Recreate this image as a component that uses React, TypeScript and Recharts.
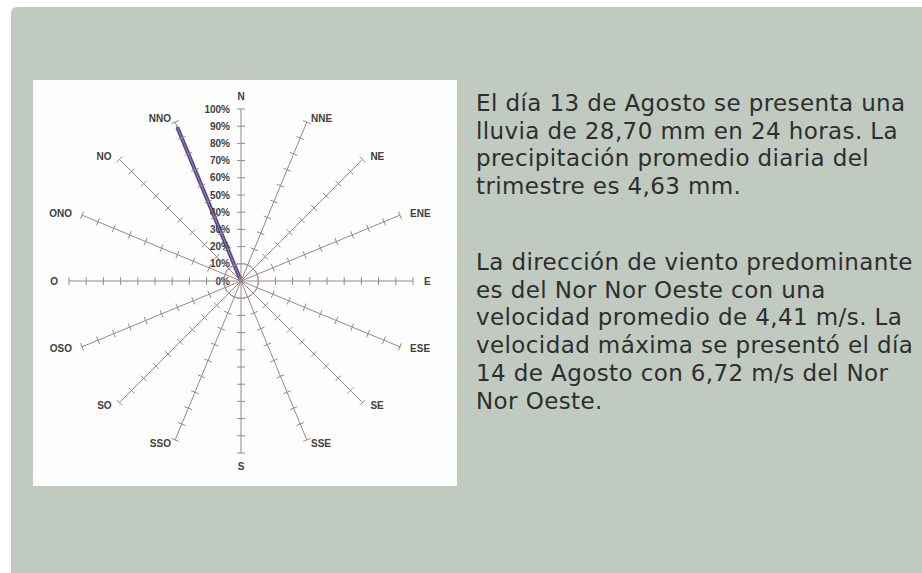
import { PolarAngleAxis, PolarGrid, PolarRadiusAxis, Radar, RadarChart } from 'recharts'

const directions = ['N', 'NNE', 'NE', 'ENE', 'E', 'ESE', 'SE', 'SSE', 'S', 'SSO', 'SO', 'OSO', 'O', 'ONO', 'NO', 'NNO']
const frequency = [0, 0, 0, 0, 0, 0, 0, 0, 0, 0, 0, 0, 0, 0, 0, 96]

const paragraphOne = [
    'El día 13 de Agosto se presenta una',
    'lluvia de 28,70 mm en 24 horas. La',
    'precipitación promedio diaria del',
    'trimestre es 4,63 mm.',
]
const paragraphTwo = [
    'La dirección de viento predominante',
    'es del Nor Nor Oeste con una',
    'velocidad promedio de 4,41 m/s. La',
    'velocidad máxima se presentó el día',
    '14 de Agosto con 6,72 m/s del Nor',
    'Nor Oeste.',
]

const data = directions.map((dir, i) => ({ dir, value: frequency[i] }))

const RAD = Math.PI / 180
const labelFont = '"Liberation Sans", Arial, sans-serif'

// tick mark across each spoke, plus the % labels on the north one
const spokeTick = (angle: number, withLabel: boolean) => (props: any) => {
    const { x, y, payload } = props
    const px = Math.sin(angle * RAD) * 4
    const py = Math.cos(angle * RAD) * 4
    return (
        <g>
            {payload.value > 0 && (
                <line x1={x - px} y1={y - py} x2={x + px} y2={y + py} stroke='#9c8686' strokeWidth={1} />
            )}
            {withLabel && (
                <text x={x - 11} y={y} textAnchor='end' dominantBaseline='central'
                    fontFamily={labelFont} fontSize={10} fontWeight='bold' fill='#404040'>
                    {`${payload.value}%`}
                </text>
            )}
        </g>
    )
}

const DirectionTick = (props: any) => {
    const { x, y, payload } = props
    const c = Math.cos(-payload.coordinate * RAD)
    const s = Math.sin(-payload.coordinate * RAD)
    const anchor = c > 0.01 ? 'start' : c < -0.01 ? 'end' : 'middle'
    const dy = anchor === 'middle' ? s * 5 : -s * 4
    return (
        <text x={x + c * 3} y={y + dy} textAnchor={anchor} dominantBaseline='central'
            fontFamily={labelFont} fontSize={10} fontWeight='bold' fill='#404040'>
            {payload.value}
        </text>
    )
}

const textStyle = {
    position: 'absolute' as const,
    left: 476,
    fontFamily: '"DejaVu Sans", sans-serif',
    fontSize: 23,
    lineHeight: '27.7px',
    letterSpacing: 0.4,
    color: '#2e2e2e',
    whiteSpace: 'nowrap' as const,
}

export default function App() {
    return (
        <div style={{ position: 'fixed', left: 0, top: 0, width: 922, height: 573, background: '#ffffff', overflow: 'hidden' }}>
            <div style={{ position: 'absolute', left: 11, top: 7, right: 0, bottom: 0, background: '#c0cac1', borderTopLeftRadius: 6 }} />
            <div style={{ position: 'absolute', left: 33, top: 80, width: 424, height: 406, background: '#fefefe' }}>
                <RadarChart width={424} height={406} data={data} cx={208} cy={201} outerRadius={172}
                    margin={{ top: 0, right: 0, bottom: 0, left: 0 }}>
                    <PolarGrid gridType='circle' polarRadius={[17]} radialLines={false} stroke='#c5d0d8' />
                    <PolarAngleAxis dataKey='dir' tick={DirectionTick} tickLine={false} axisLine={false} />
                    {directions.map((dir, i) => {
                        const angle = 90 - i * 22.5
                        return (
                            <PolarRadiusAxis key={dir} radiusAxisId={i} angle={angle} type='number'
                                domain={[0, 100]} allowDataOverflow tickCount={11} stroke='#9c8686'
                                axisLine={{ stroke: '#9c8686' }} tick={spokeTick(angle, i === 0)} />
                        )
                    })}
                    <Radar dataKey='value' radiusAxisId={0} stroke='#56479a' strokeWidth={4}
                        strokeLinejoin='round' fill='none' isAnimationActive={false} />
                </RadarChart>
            </div>
            <div style={{ ...textStyle, top: 90 }}>
                {paragraphOne.map(line => <div key={line}>{line}</div>)}
            </div>
            <div style={{ ...textStyle, top: 249 }}>
                {paragraphTwo.map(line => <div key={line}>{line}</div>)}
            </div>
        </div>
    )
}
